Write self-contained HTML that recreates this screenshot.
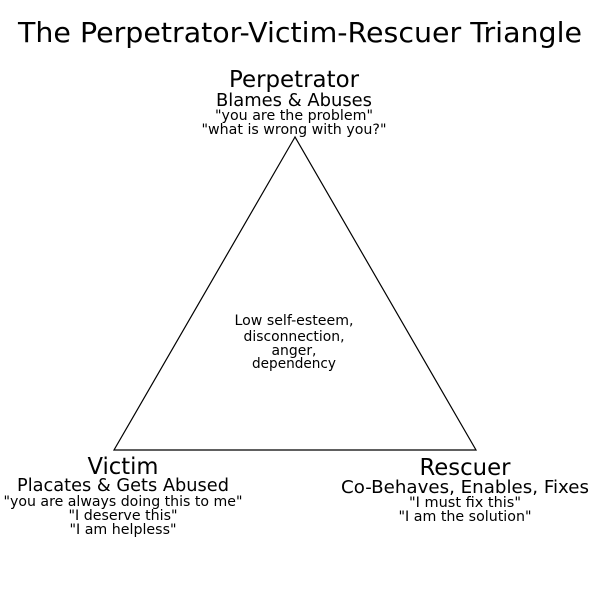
<!DOCTYPE html>
<html><head><meta charset="utf-8"><style>
html,body{margin:0;padding:0;background:#fff}
svg{display:block}
text{font-family:"DejaVu Sans",sans-serif;fill:#000;text-anchor:middle}
</style></head><body>
<svg width="600" height="600" viewBox="0 0 600 600">
<text x="300" y="42" font-size="28" textLength="564" lengthAdjust="spacingAndGlyphs">The Perpetrator-Victim-Rescuer Triangle</text>
<polygon points="295,137 114,450 476,450" fill="#fff" stroke="#000" stroke-width="1.2"/>
<text x="294" y="87" font-size="23.5" textLength="130" lengthAdjust="spacingAndGlyphs">Perpetrator</text>
<text x="294" y="106" font-size="18" textLength="156" lengthAdjust="spacingAndGlyphs">Blames &amp; Abuses</text>
<text x="294" y="120" font-size="14.5" textLength="158" lengthAdjust="spacingAndGlyphs">"you are the problem"</text>
<text x="294" y="134" font-size="14.5" textLength="185" lengthAdjust="spacingAndGlyphs">"what is wrong with you?"</text>
<text x="294" y="325" font-size="14" textLength="119" lengthAdjust="spacingAndGlyphs">Low self-esteem,</text>
<text x="294" y="341" font-size="14" textLength="101" lengthAdjust="spacingAndGlyphs">disconnection,</text>
<text x="294" y="355" font-size="14" textLength="45" lengthAdjust="spacingAndGlyphs">anger,</text>
<text x="294" y="368" font-size="14" textLength="84" lengthAdjust="spacingAndGlyphs">dependency</text>
<text x="123" y="474" font-size="23.5" textLength="71" lengthAdjust="spacingAndGlyphs">Victim</text>
<text x="123" y="491" font-size="18" textLength="212" lengthAdjust="spacingAndGlyphs">Placates &amp; Gets Abused</text>
<text x="123" y="506" font-size="14.5" textLength="239" lengthAdjust="spacingAndGlyphs">"you are always doing this to me"</text>
<text x="123" y="520" font-size="14.5" textLength="109" lengthAdjust="spacingAndGlyphs">"I deserve this"</text>
<text x="123" y="534" font-size="14.5" textLength="107" lengthAdjust="spacingAndGlyphs">"I am helpless"</text>
<text x="465" y="475" font-size="23.5" textLength="91" lengthAdjust="spacingAndGlyphs">Rescuer</text>
<text x="465" y="493" font-size="18" textLength="248" lengthAdjust="spacingAndGlyphs">Co-Behaves, Enables, Fixes</text>
<text x="465" y="507" font-size="14.5" textLength="112" lengthAdjust="spacingAndGlyphs">"I must fix this"</text>
<text x="465" y="521" font-size="14.5" textLength="133" lengthAdjust="spacingAndGlyphs">"I am the solution"</text>
</svg>
</body></html>
